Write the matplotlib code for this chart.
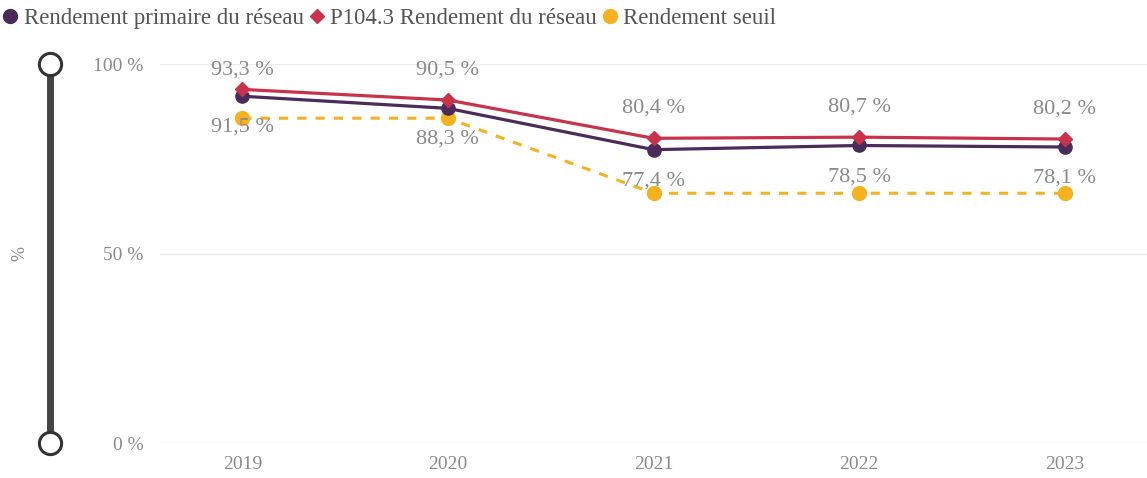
import numpy as np
from matplotlib import pyplot as plt
from matplotlib.lines import Line2D
import matplotlib.patheffects as pe

plt.rcParams['font.family'] = ['Liberation Serif', 'DejaVu Serif']

years = ["2019", "2020", "2021", "2022", "2023"]
rdt_primaire = [91.5, 88.3, 77.4, 78.5, 78.1]
rdt_p104 = [93.3, 90.5, 80.4, 80.7, 80.2]
rdt_seuil = [85.7, 85.7, 65.9, 65.9, 65.9]
y_ticks = [0, 50, 100]
y_tick_labels = ["0 %", "50 %", "100 %"]

c_purple = "#4a2b5a"
c_red = "#c8324a"
c_yellow = "#f5b220"
c_text = "#8a8a8a"

fig = plt.figure(figsize=(11.47, 4.78), dpi=100)
ax = fig.add_axes([0.1395, 0.0732, 0.8605, 0.7929])
x = np.arange(len(years))

outline = [pe.Stroke(linewidth=4.2, foreground="white"), pe.Normal()]
ax.plot(x, rdt_seuil, color=c_yellow, lw=2.2, ls=(0, (3, 3)), marker="o", ms=10, zorder=2)
ax.plot(x, rdt_primaire, color=c_purple, lw=2.3, zorder=3, path_effects=outline)
ax.plot(x, rdt_primaire, ls="None", color=c_purple, marker="o", ms=9.5, zorder=3)
ax.plot(x, rdt_p104, color=c_red, lw=2.3, zorder=4, path_effects=outline)
ax.plot(x, rdt_p104, ls="None", color=c_red, marker="D", ms=7.5, zorder=4)

def fmt(v):
    return ("%.1f %%" % v).replace(".", ",")

for i in x:
    # labels above the red series, kept inside the plot top like the source
    y_top = min(rdt_p104[i] + 7.9, 98.4)
    ax.text(i, y_top, fmt(rdt_p104[i]), ha="center", va="center", fontsize=16,
            color=c_text, zorder=5)
    ax.text(i, rdt_primaire[i] - 8.2, fmt(rdt_primaire[i]), ha="center", va="center",
            fontsize=16, color=c_text, zorder=5)

ax.set_xlim(-0.4, 4.4)
ax.set_ylim(0, 100)
ax.set_xticks(x)
ax.set_xticklabels(years, fontsize=14, color=c_text)
ax.set_yticks(y_ticks)
ax.set_yticklabels(y_tick_labels, fontsize=14, color=c_text)
ax.tick_params(length=0)
ax.tick_params(axis="x", pad=9)
ax.tick_params(axis="y", pad=12)
ax.grid(axis="y", color="#ececec", lw=1)
for s in ax.spines.values():
    s.set_visible(False)

# slider on the left
ax_sl = fig.add_axes([0.02, 0.0732, 0.05, 0.7929])
ax_sl.set_xlim(0, 1)
ax_sl.set_ylim(0, 100)
ax_sl.axis("off")
ax_sl.plot([0.47, 0.47], [0, 100], color="#444444", lw=5, solid_capstyle="butt", zorder=1)
ax_sl.plot([0.47, 0.47], [0, 100], ls="None", marker="o", ms=16, mfc="white", mec="#333333", mew=2.2,
           zorder=2, clip_on=False)
fig.text(0.017, 0.47, "%", rotation=90, fontsize=13, color=c_text, ha="center", va="center")

handles = [
    Line2D([], [], ls="None", marker="o", ms=10, color=c_purple),
    Line2D([], [], ls="None", marker="D", ms=7.5, color=c_red),
    Line2D([], [], ls="None", marker="o", ms=10, color=c_yellow),
]
labels = ["Rendement primaire du réseau", "P104.3 Rendement du réseau", "Rendement seuil"]
fig.legend(handles, labels, loc="upper left", bbox_to_anchor=(-0.019, 1.027), ncol=3, frameon=False,
           fontsize=16.5, handletextpad=0.1, columnspacing=0.05, handlelength=1.0,
           labelcolor="#555555")

fig.savefig("out.png", dpi=100)
